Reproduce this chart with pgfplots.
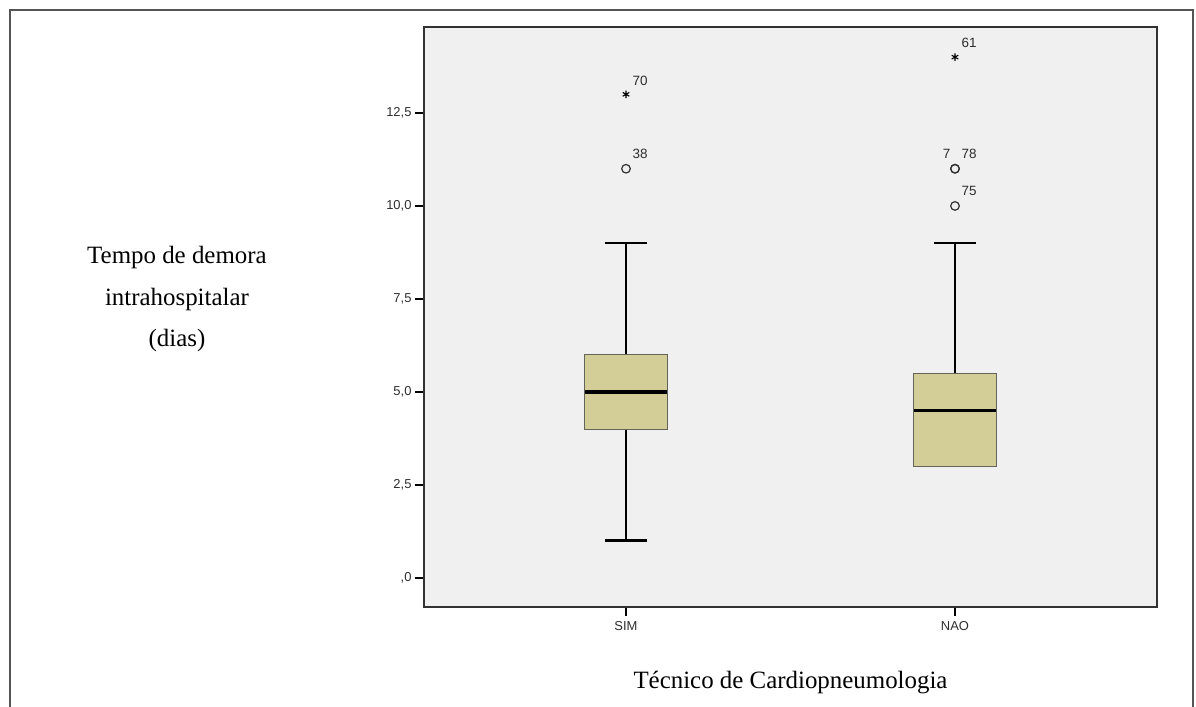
\documentclass[border=0pt]{standalone}
\usepackage{fontspec}
\setmainfont{Liberation Serif}
\setsansfont{Liberation Sans}
\usepackage{pgfplots}
\pgfplotsset{compat=1.18}
\usepgfplotslibrary{statistics}
\definecolor{bgc}{RGB}{240,240,240}
\definecolor{boxc}{RGB}{211,206,151}
\definecolor{boxedge}{RGB}{100,100,90}
\definecolor{framec}{RGB}{85,85,85}
\definecolor{axc}{RGB}{50,50,50}
\definecolor{lblc}{RGB}{45,45,45}

\begin{document}
\begin{tikzpicture}
\path[use as bounding box] (0bp,0bp) rectangle (1196bp,707bp);
\draw[framec, line width=2bp] (10bp,-2bp) -- (10bp,697bp) -- (1193bp,697bp) -- (1193bp,-2bp);
\begin{axis}[
  at={(424bp,100bp)}, anchor=south west,
  scale only axis, width=733bp, height=580bp,
  xmin=0.386, xmax=2.614, ymin=-0.78, ymax=14.81,
  axis background/.style={fill=bgc},
  axis line style={draw=axc, line width=1.5bp},
  xtick={1,2}, xticklabels={SIM,NAO},
  ytick={0,2.5,5,7.5,10,12.5},
  yticklabels={{,0},{2,5},{5,0},{7,5},{10,0},{12,5}},
  tick align=outside, tick pos=left,
  major tick length=9bp,
  every tick/.style={black, line width=1.5bp},
  ticklabel style={font=\fontsize{13}{14}\selectfont\sffamily, text=lblc},
  xticklabel style={yshift=-2bp},
  xlabel={Técnico de Cardiopneumologia},
  every axis x label/.style={at={(axis description cs:0.5,-0.1397)}, anchor=base, font=\fontsize{25}{42}\selectfont},
  ylabel={Tempo de demora\\intrahospitalar\\(dias)},
  every axis y label/.style={at={(axis description cs:-0.3370,0.531)}, anchor=center, align=center, font=\fontsize{25}{42}\selectfont},
  clip=false,
  boxplot/draw direction=y,
  boxplot/every box/.style={draw=boxedge, fill=boxc, line width=1.3bp},
  boxplot/every whisker/.style={black, line width=2.7bp},
  boxplot/every median/.style={black, line width=3.5bp},
]
\addplot+[boxplot prepared={draw direction=y, draw position=1, lower whisker=1, lower quartile=4, median=5, upper quartile=6, upper whisker=9, box extend=0.252, whisker extend=0.128}, black, solid, mark=none] coordinates {};
\addplot+[boxplot prepared={draw direction=y, draw position=2, lower whisker=3, lower quartile=3, median=4.5, upper quartile=5.5, upper whisker=9, box extend=0.252, whisker extend=0.128},
  boxplot/draw/lower whisker/.code={}, black, solid, mark=none] coordinates {};

% outliers (circles), labels to the upper right
\addplot[only marks, mark=o, mark size=4.3bp, mark options={draw=axc, line width=1.2bp},
  nodes near coords, point meta=explicit symbolic,
  nodes near coords style={font=\fontsize{13.5}{15}\selectfont\sffamily, text=lblc, anchor=south west, inner sep=0pt, xshift=6bp, yshift=9.5bp}]
  table[meta=lab] {
x y lab
1 11 38
2 11 78
2 10 75
};
% second case at the same value for NAO, label to the upper left
\addplot[only marks, mark=o, mark size=4.3bp, mark options={draw=axc, line width=1.2bp},
  nodes near coords, point meta=explicit symbolic,
  nodes near coords style={font=\fontsize{13.5}{15}\selectfont\sffamily, text=lblc, anchor=south east, inner sep=0pt, xshift=-4bp, yshift=9.5bp}]
  table[meta=lab] {
x y lab
2 11 7
};
% extreme values (stars)
\addplot[only marks, mark=asterisk, mark size=3.8bp, mark options={draw=black, line width=1.1bp},
  nodes near coords, point meta=explicit symbolic,
  nodes near coords style={font=\fontsize{13.5}{15}\selectfont\sffamily, text=lblc, anchor=south west, inner sep=0pt, xshift=6bp, yshift=8.5bp}]
  table[meta=lab] {
x y lab
1 13 70
2 14 61
};
\end{axis}
\end{tikzpicture}
\end{document}
